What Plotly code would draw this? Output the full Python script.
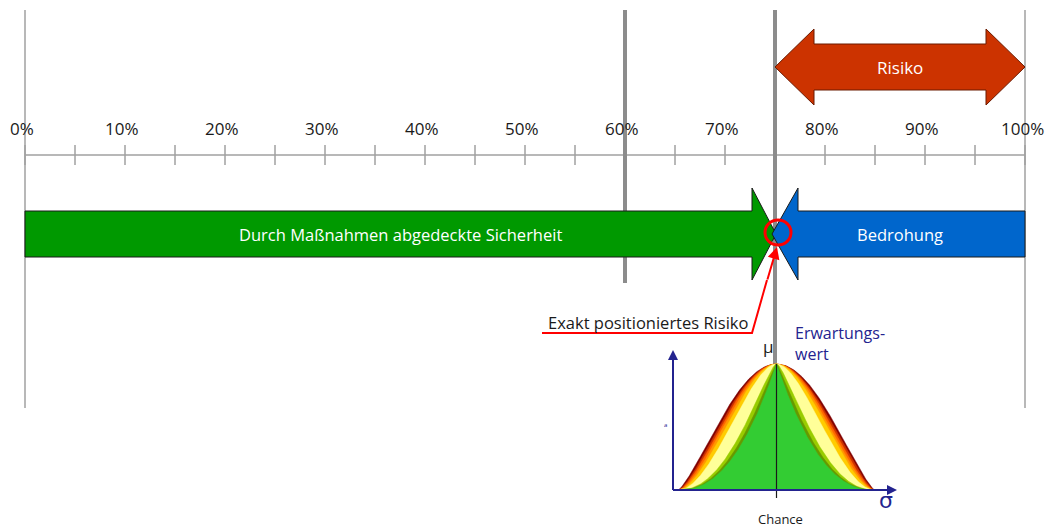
import numpy as np
import plotly.graph_objects as go

# ---------------- data ----------------
scale_ticks = list(range(0, 101, 5))          # minor + major ticks (%)
label_ticks = list(range(0, 101, 10))         # labelled ticks (%)
label_text = [f"{v}%" for v in label_ticks]
threshold = 60                                # thick grey line
risk_position = 75                            # exact risk position (%)
scale_max = 100
risk_label = "Risiko"
security_label = "Durch Maßnahmen abgedeckte Sicherheit"
threat_label = "Bedrohung"
pointer_label = "Exakt positioniertes Risiko"
expect_label = ["Erwartungs-", "wert"]
chance_label = "Chance"
# bell-curve layers (outer -> inner): colour and blend weight
bell_colors = ["#800000", "#cc3300", "#ff6600", "#ff9900", "#ffcc00",
               "#ffff99", "#99cc00", "#669900", "#33cc33"]
bell_weights = [1.0, 0.93, 0.87, 0.80, 0.725, 0.60, 0.20, 0.085, 0.0]

FONT = "Open Sans, sans-serif"
GREY = "#8c8c8c"
NAVY = "#23238f"

fig = go.Figure()

def seg(x, y, color, width, dash=None):
    fig.add_trace(go.Scatter(x=x, y=y, mode="lines", hoverinfo="skip",
                             line=dict(color=color, width=width, dash=dash)))

def poly(x, y, fill, outline="#1a1a1a", lw=1):
    fig.add_trace(go.Scatter(x=x, y=y, mode="lines", fill="toself", fillcolor=fill,
                             hoverinfo="skip", line=dict(color=outline, width=lw)))

# thin boundary lines
seg([0, 0], [10, 408], "#a0a0a0", 1.5)
seg([scale_max, scale_max], [10, 408], "#a0a0a0", 1.5)
# scale axis
seg([0, scale_max], [155, 155], "#a0a0a0", 1.5)
for t in scale_ticks:
    seg([t, t], [145, 165], "#a0a0a0", 1.5)
# thick grey lines
seg([threshold, threshold], [10, 283], GREY, 4)
seg([risk_position, risk_position], [10, 366], GREY, 4)

# Risiko double arrow
r0, r1 = risk_position, scale_max
hl = 3.9
poly([r0, r0 + hl, r0 + hl, r1 - hl, r1 - hl, r1, r1 - hl, r1 - hl, r0 + hl, r0 + hl, r0],
     [67, 29, 44, 44, 29, 67, 105, 90, 90, 105, 67], "#cc3300", "#6b1a00", 1)

# green arrow (security) pointing right
g_tip = risk_position + 0.1
poly([0, g_tip - 2.4, g_tip - 2.4, g_tip, g_tip - 2.4, g_tip - 2.4, 0, 0],
     [211, 211, 188, 234, 280, 257, 257, 211], "#009900")
# blue arrow (threat) pointing left
b_tip = risk_position - 0.3
poly([scale_max, b_tip + 2.6, b_tip + 2.6, b_tip, b_tip + 2.6, b_tip + 2.6, scale_max, scale_max],
     [211, 211, 188, 234, 280, 257, 257, 211], "#0066cc")

# pointer line
seg([51.7, 72.7, 74.2], [333, 333, 280], "#ff0000", 2)

# ---------------- bell curve inset ----------------
center = risk_position + 0.15
hw = 9.8
base_y, peak_h = 490, 126
h = np.linspace(0, 1, 240)
x_outer = np.arccos(2 * h ** (1 / 0.62) - 1) / np.pi
x_inner = 1 - h ** (1 / 2.3)
for col, w in zip(bell_colors, bell_weights):
    xf = x_inner + w * (x_outer - x_inner)
    xs = np.concatenate([center - hw * xf, (center + hw * xf)[::-1]])
    ys = np.concatenate([base_y - peak_h * h, (base_y - peak_h * h)[::-1]])
    fig.add_trace(go.Scatter(x=xs, y=ys, mode="lines", fill="toself", fillcolor=col,
                             hoverinfo="skip", line=dict(color=col, width=0.5)))
# centre line
seg([center, center], [364, 498], "#1a1a1a", 1.2)
# inset axes
seg([64.8, 64.8], [490, 356], NAVY, 2)
seg([64.8, 86.4], [490, 490], NAVY, 2)

annotations = []
# arrowheads of inset axes
annotations.append(dict(x=64.8, y=350, ax=64.8, ay=362, xref="x", yref="y", axref="x", ayref="y",
                        showarrow=True, arrowhead=2, arrowsize=1, arrowwidth=2, arrowcolor=NAVY, text=""))
annotations.append(dict(x=87.2, y=490, ax=86.0, ay=490, xref="x", yref="y", axref="x", ayref="y",
                        showarrow=True, arrowhead=2, arrowsize=1, arrowwidth=2, arrowcolor=NAVY, text=""))
# red pointer arrow head
annotations.append(dict(x=75.2, y=247, ax=74.2, ay=281, xref="x", yref="y", axref="x", ayref="y",
                        showarrow=True, arrowhead=2, arrowsize=1.2, arrowwidth=2, arrowcolor="#ff0000", text=""))

# tick labels
for v, t in zip(label_ticks, label_text):
    annotations.append(dict(x=v - 0.3, y=128, text=t, showarrow=False,
                            font=dict(family=FONT, size=17, color="#1a1a1a")))
# arrow labels
annotations.append(dict(x=(r0 + r1) / 2, y=67, text=risk_label, showarrow=False,
                        font=dict(family=FONT, size=17, color="white")))
annotations.append(dict(x=37.5, y=234, text=security_label, showarrow=False,
                        font=dict(family=FONT, size=16.5, color="white")))
annotations.append(dict(x=87.5, y=234, text=threat_label, showarrow=False,
                        font=dict(family=FONT, size=16.5, color="white")))
annotations.append(dict(x=62.3, y=322, text=pointer_label, showarrow=False,
                        font=dict(family=FONT, size=16.5, color="#1a1a1a")))
# inset labels
annotations.append(dict(x=76.8, y=343, text="<br>".join(expect_label), showarrow=False,
                        xanchor="left", align="left",
                        font=dict(family=FONT, size=16, color=NAVY)))
annotations.append(dict(x=74.3, y=346, text="μ", showarrow=False,
                        font=dict(family=FONT, size=17, color="#1a1a1a")))
annotations.append(dict(x=86.1, y=500, text="σ", showarrow=False,
                        font=dict(family="DejaVu Sans", size=22, color=NAVY)))
annotations.append(dict(x=75.5, y=519, text=chance_label, showarrow=False,
                        font=dict(family=FONT, size=13, color="#1a1a1a")))
annotations.append(dict(x=64.0, y=425, text="a", showarrow=False,
                        font=dict(family=FONT, size=6, color=NAVY)))
for a in annotations:
    a.setdefault("xref", "x")
    a.setdefault("yref", "y")

shapes = [dict(type="circle", xref="x", yref="y", x0=75.3 - 1.3, x1=75.3 + 1.3, y0=220, y1=245,
               line=dict(color="#ff0000", width=3), layer="above")]

# the page body has an 8px margin: the figure is 8px smaller and the ranges compensate
fig.update_layout(
    width=1045, height=521, margin=dict(l=0, r=0, t=0, b=0),
    paper_bgcolor="white", plot_bgcolor="white", showlegend=False,
    xaxis=dict(range=[-1.7, 102.8], visible=False, fixedrange=True),
    yaxis=dict(range=[529, 8], visible=False, fixedrange=True),
    annotations=annotations, shapes=shapes,
)
fig.write_html("out.html")
